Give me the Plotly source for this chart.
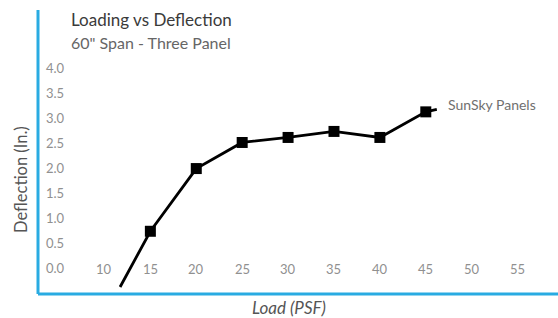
import plotly.graph_objects as go

# Data
load_psf = [11.7, 15, 20, 25, 30, 35, 40, 45, 46.2]
deflection = [-0.36, 0.75, 2.0, 2.52, 2.62, 2.74, 2.62, 3.13, 3.18]
has_marker = [False, True, True, True, True, True, True, True, False]
x_tick_vals = [10, 15, 20, 25, 30, 35, 40, 45, 50, 55]
x_tick_text = ["10", "15", "20", "25", "30", "35", "40", "45", "50", "55"]
y_tick_vals = [0, 0.5, 1.0, 1.5, 2.0, 2.5, 3.0, 3.5, 4.0]
y_tick_text = ["0.0", "0.5", "1.0", "1.5", "2.0", "2.5", "3.0", "3.5", "4.0"]
series_name = "SunSky Panels"

FONT = "Lato"
BLUE = "#29ABE2"
TICK_COLOR = "#909090"
W, H = 558, 318
ML, MR, MT, MB = 38, 0, 10, 24
PW, PH = W - ML - MR, H - MT - MB


def px(x):
    return (x - ML) / PW


def py(y):
    return 1 - (y - MT) / PH


fig = go.Figure()
fig.add_trace(go.Scatter(
    x=load_psf, y=deflection, mode="lines+markers", name=series_name,
    line=dict(color="#000000", width=2.8),
    marker=dict(symbol="square", color="#000000", opacity=1, line=dict(width=0),
                size=[11 if m else 0 for m in has_marker]),
    cliponaxis=False, showlegend=False,
))

annotations = []
for v, t in zip(x_tick_vals, x_tick_text):
    annotations.append(dict(x=v, y=0, xref="x", yref="y", text=t, showarrow=False,
                            font=dict(family=FONT, size=13, color=TICK_COLOR),
                            xanchor="center", yanchor="middle"))
annotations.append(dict(x=load_psf[-1], y=deflection[-1], xref="x", yref="y",
                        text=series_name, showarrow=False, xanchor="left", yanchor="middle",
                        xshift=9, yshift=5,
                        font=dict(family=FONT, size=14, color="#707070")))
annotations.append(dict(x=px(69), y=py(20), xref="paper", yref="paper", text="Loading vs Deflection",
                        showarrow=False, xanchor="left", yanchor="middle",
                        font=dict(family=FONT, size=17, color="#3a3a3a")))
annotations.append(dict(x=px(69), y=py(43), xref="paper", yref="paper", text="60\" Span - Three Panel",
                        showarrow=False, xanchor="left", yanchor="middle",
                        font=dict(family=FONT, size=16, color="#666666")))
annotations.append(dict(x=px(21), y=py(180), xref="paper", yref="paper", text="Deflection (In.)",
                        showarrow=False, xanchor="center", yanchor="middle", textangle=-90,
                        font=dict(family=FONT, size=16.5, color="#555555")))
annotations.append(dict(x=px(289), y=py(307), xref="paper", yref="paper", text="<i>Load (PSF)</i>",
                        showarrow=False, xanchor="center", yanchor="middle",
                        font=dict(family=FONT, size=17, color="#555555")))

fig.update_layout(
    width=W, height=H,
    margin=dict(l=ML, r=MR, t=MT, b=MB, autoexpand=False),
    paper_bgcolor="white", plot_bgcolor="white",
    xaxis=dict(range=[2.76, 59.4], showgrid=False, zeroline=False, showline=False,
               showticklabels=False, ticks="", automargin=False),
    yaxis=dict(range=[-0.5, 5.16], showgrid=False, zeroline=False, showline=False,
               tickvals=y_tick_vals, ticktext=y_tick_text, ticks="",
               ticklabelposition="inside", ticklabelstandoff=5, automargin=False,
               tickfont=dict(family=FONT, size=13, color=TICK_COLOR)),
    shapes=[
        dict(type="line", xref="paper", yref="paper", x0=0, x1=0, y0=0, y1=1,
             line=dict(color=BLUE, width=3)),
        dict(type="line", xref="paper", yref="paper", x0=0, x1=1.0, y0=0, y1=0,
             line=dict(color=BLUE, width=3)),
    ],
    annotations=annotations,
)

fig.write_html("out.html", config={"displayModeBar": False},
               post_script="document.body.style.margin='0';document.body.style.overflow='hidden';")
